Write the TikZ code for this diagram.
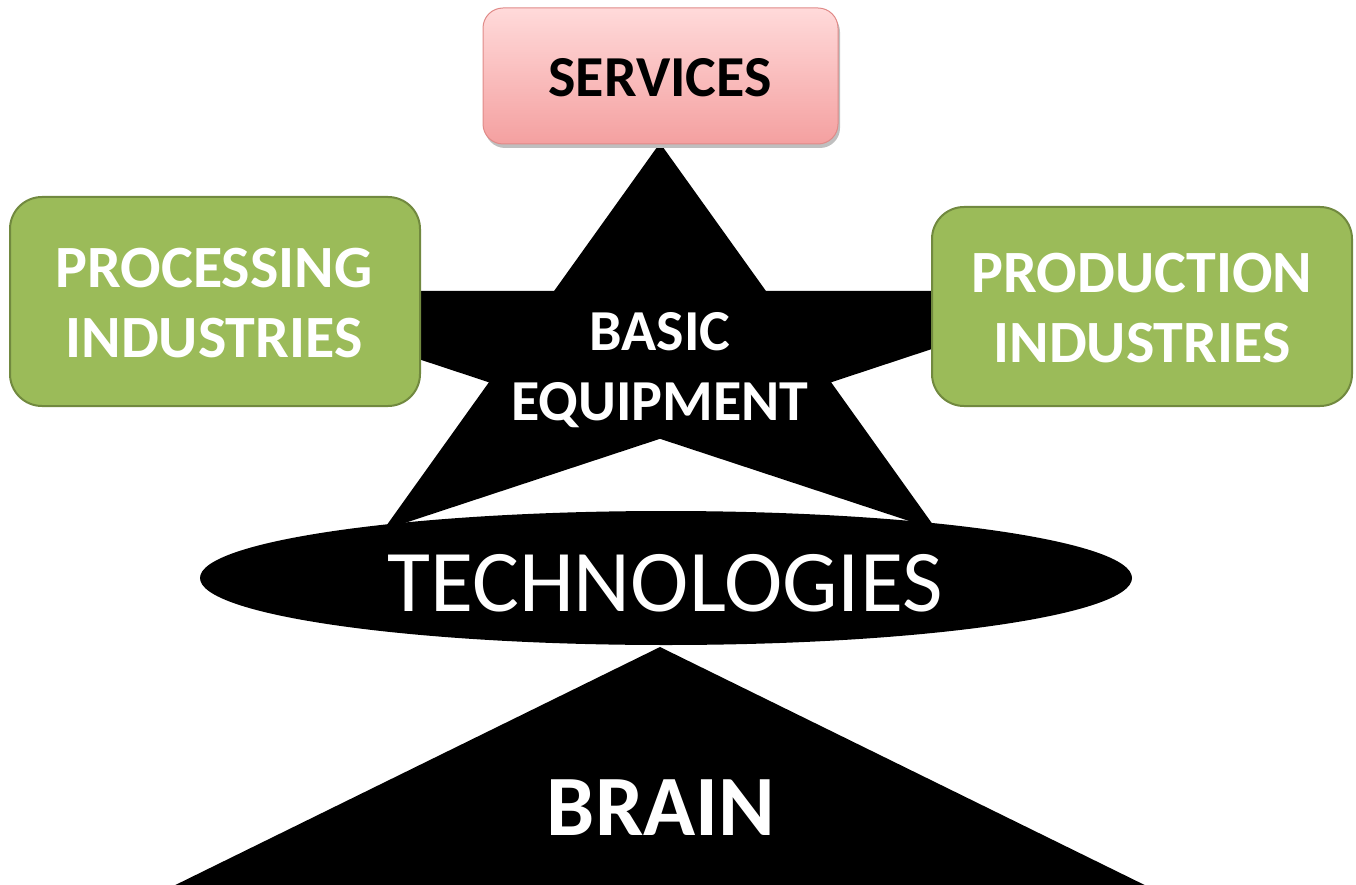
\documentclass[tikz,border=0pt]{standalone}
\usepackage{fontspec}
\setmainfont{Carlito}
\usetikzlibrary{shapes.geometric}
\definecolor{gfill}{HTML}{9BBB59}
\definecolor{gline}{HTML}{71893F}
\definecolor{ptop}{HTML}{FFDADA}
\definecolor{pbot}{HTML}{F4A0A0}
\definecolor{pline}{HTML}{E08A88}
\tikzset{
  greenbox/.style={draw=gline, line width=2pt, fill=gfill, rounded corners=32pt},
  wlabel/.style={text=white, font=\bfseries\fontsize{60}{70}\selectfont, align=center},
  blabel/.style={text=black, font=\bfseries\fontsize{58}{68}\selectfont, align=center},
}
\begin{document}
\begin{tikzpicture}[x=1pt,y=-1pt]
\useasboundingbox (0,0) rectangle (1356,885);
% star
\fill[black] (660,143) -- (765.8,290.8) -- (1107.7,290.9) -- (831.1,382.3) -- (936.8,530.1)
  -- (660,438.8) -- (383.2,530.1) -- (488.9,382.3) -- (212.3,290.9) -- (554.2,290.8) -- cycle;
% bottom triangle
\fill[black] (660,647) -- (1165,895) -- (155,895) -- cycle;
% ellipse
\node[ellipse, fill=black, minimum width=932pt, minimum height=134pt, inner sep=0pt] (tech) at (666,578) {};
\node[text=white, font=\fontsize{88}{100}\selectfont] (techt) at (665,583) {TECHNOLOGIES};
% services
\fill[black!25, rounded corners=20pt] (485,12) rectangle (840,148);
\shade[top color=ptop, bottom color=pbot, draw=pline, line width=1pt, rounded corners=20pt] (483,8) rectangle (838,144);
\node[blabel] (serv) at (660,78) {SERVICES};
% green boxes
\draw[greenbox] (10,197) rectangle (420,406);
\node[wlabel] (proc) at (214,303) {PROCESSING\\INDUSTRIES};
\draw[greenbox] (932,207) rectangle (1352,406);
\node[wlabel] (prod) at (1142,308) {PRODUCTION\\INDUSTRIES};
% labels
\node[text=white, font=\bfseries\fontsize{58}{70}\selectfont, align=center] (basic) at (660,370) {BASIC\\EQUIPMENT};
\node[text=white, font=\bfseries\fontsize{86}{100}\selectfont] (brain) at (661,808) {BRAIN};
\end{tikzpicture}
\end{document}
